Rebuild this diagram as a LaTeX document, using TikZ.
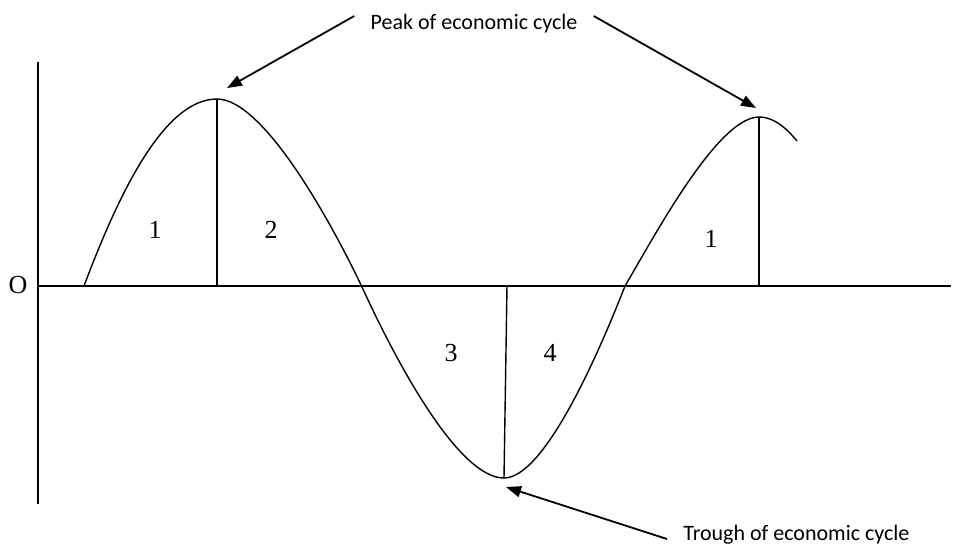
\documentclass[tikz,border=0pt]{standalone}
\usepackage{fontspec}
\setmainfont{Liberation Serif}
\newfontfamily\calib{Carlito}
\usetikzlibrary{arrows.meta}

\begin{document}
\begin{tikzpicture}[x=0.5pt, y=-0.5pt, font=\fontsize{13}{15}\selectfont,
   curve/.style={line width=0.7pt, line join=round},
   axis/.style={line width=0.7pt},
   drop/.style={line width=0.7pt},
   num/.style={inner sep=1pt},
   lab/.style={font=\calib\fontsize{11}{13}\selectfont, inner xsep=8pt, inner ysep=2pt},
   ar/.style={-{Triangle[length=7.5pt, width=5.5pt]}, line width=0.9pt}]
 \useasboundingbox (0,0) rectangle (953,548);
 \coordinate (origin) at (38,286);
 \coordinate (ytop) at (38,62);
 \coordinate (ybot) at (38,504);
 \coordinate (xend) at (951,286);
 \coordinate (start) at (84,286);
 \coordinate (peakA) at (217,99);
 \coordinate (crossA) at (362,287);
 \coordinate (troughA) at (504,478);
 \coordinate (troughB) at (507,286);
 \coordinate (crossB) at (625,286);
 \coordinate (peakB) at (759,117);
 \coordinate (tail) at (797,141);
 \draw[axis] (ytop) -- (ybot);
 \draw[axis] (origin) -- (xend);
 \node[num] (o) at (18,285) {O};
 \draw[curve] (start) .. controls (120,190) and (165,99) .. (peakA)
   .. controls (265,99) and (335,230) .. (crossA)
   .. controls (400,370) and (460,478) .. (troughA)
   .. controls (545,478) and (600,350) .. (crossB);
 \draw[curve] (crossB) .. controls (655,235) and (718,117) .. (peakB)
   .. controls (775,117) and (788,130) .. (tail);
 \draw[drop] (peakA) -- (peakA |- origin);
 \draw[drop] (troughB) -- (troughA);
 \draw[drop] (peakB) -- (peakB |- origin);
 \node[num] (ph1) at (155,230) {1};
 \node[num] (ph2) at (271,230) {2};
 \node[num] (ph3) at (451,353) {3};
 \node[num] (ph4) at (550,353) {4};
 \node[num] (ph5) at (711,239) {1};
 \node[lab] (peak) at (474,24) {Peak of economic cycle};
 \node[lab, anchor=west] (trough) at (667,535) {Trough of economic cycle};
 \draw[ar] ([yshift=4]peak.west) -- ([shift={(10,-11)}]peakA);
 \draw[ar] ([yshift=4]peak.east) -- ([shift={(-3,-9)}]peakB);
 \draw[ar] ([yshift=-2]trough.west) -- ([shift={(2,9)}]troughA);
\end{tikzpicture}
\end{document}
